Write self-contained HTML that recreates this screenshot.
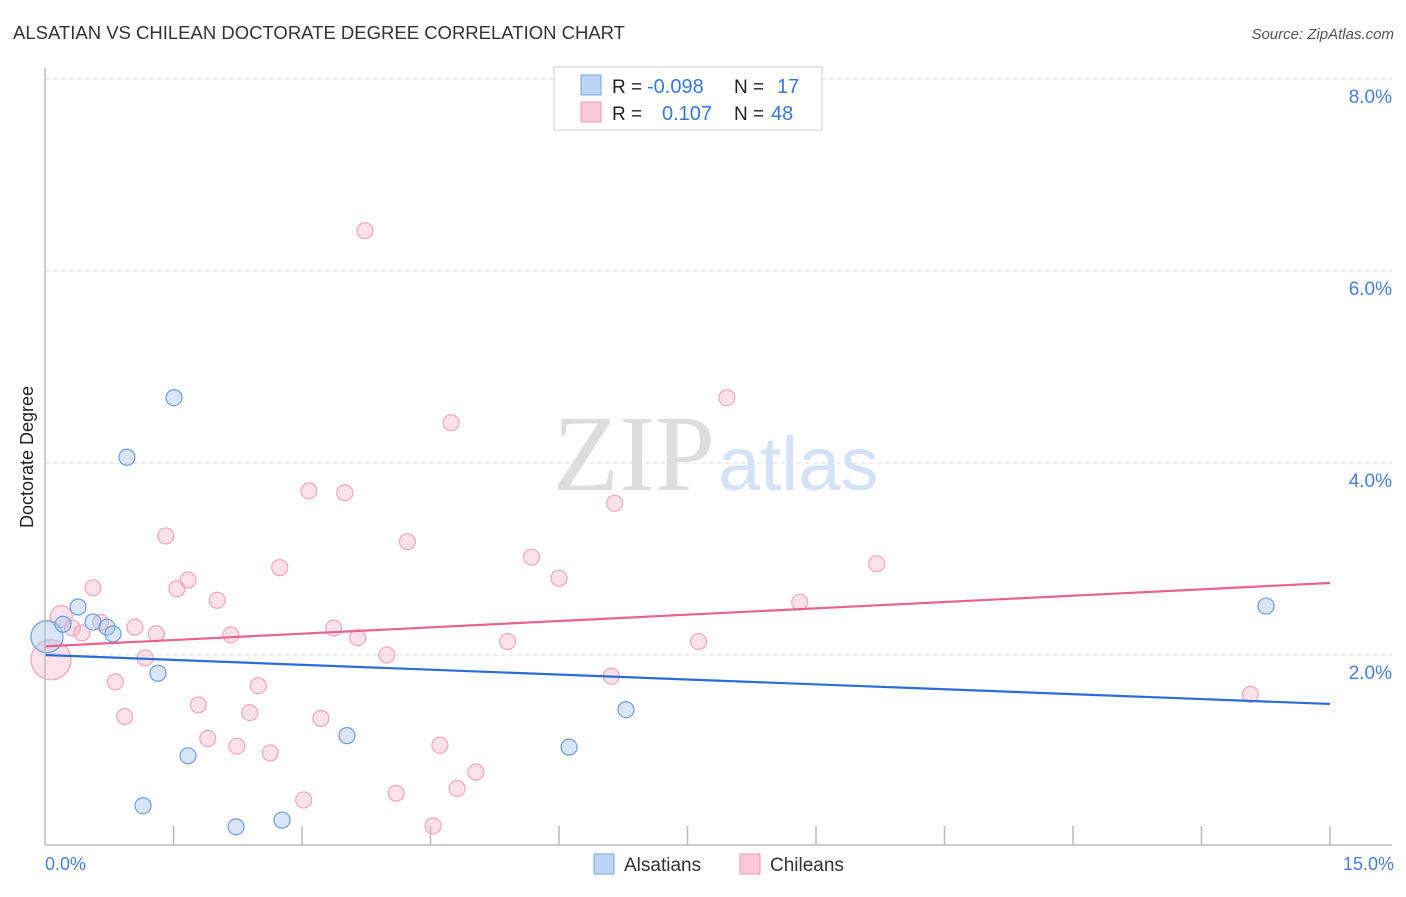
<!DOCTYPE html>
<html><head><meta charset="utf-8"><style>
body{margin:0;background:#fff;font-family:"Liberation Sans",sans-serif;}
svg text{font-family:"Liberation Sans",sans-serif;}
</style></head><body>
<svg width="1406" height="892" id="c">
<text x="13" y="39" font-size="18.5" fill="#333">ALSATIAN VS CHILEAN DOCTORATE DEGREE CORRELATION CHART</text>
<text x="1394" y="39" font-size="15" fill="#555" font-style="italic" text-anchor="end">Source: ZipAtlas.com</text>
<text x="33" y="457" font-size="18" fill="#222" transform="rotate(-90 33 457)" text-anchor="middle">Doctorate Degree</text>
<text x="553" y="490" font-size="108" fill="#ddd" style="font-family:'Liberation Serif',serif">ZIP</text>
<text x="718" y="490" font-size="76" fill="#d5e2f5">atlas</text>
<g id="grid"></g><g id="pts"></g><g id="lines"></g>
<line x1="45" y1="68" x2="45" y2="845" stroke="#bbb" stroke-width="1.5"/>
<line x1="45" y1="845" x2="1392" y2="845" stroke="#bbb" stroke-width="1.5"/>
<text x="45" y="870" font-size="18" fill="#4a7fd8">0.0%</text>
<text x="1394" y="870" font-size="18" fill="#4a7fd8" text-anchor="end">15.0%</text>
<g>
<rect x="554" y="67" width="268" height="63" fill="#fff" stroke="#ccc"/>
<rect x="581" y="75" width="20" height="20" fill="#bcd4f5" stroke="#7aa6e6"/>
<rect x="581" y="102" width="20" height="20" fill="#fac8d6" stroke="#ef9ab4"/>
<text x="612" y="93" font-size="19" fill="#222">R =</text><text x="647" y="93" font-size="20" fill="#3a78d8">-0.098</text>
<text x="734" y="93" font-size="19" fill="#222">N =</text><text x="777" y="93" font-size="20" fill="#3a78d8">17</text>
<text x="612" y="120" font-size="19" fill="#222">R =</text><text x="662" y="120" font-size="20" fill="#3a78d8">0.107</text>
<text x="734" y="120" font-size="19" fill="#222">N =</text><text x="771" y="120" font-size="20" fill="#3a78d8">48</text>
</g>
<g>
<rect x="594" y="854" width="20" height="20" fill="#bcd4f5" stroke="#7aa6e6"/>
<text x="624" y="871" font-size="19" fill="#333">Alsatians</text>
<rect x="740" y="854" width="20" height="20" fill="#fac8d6" stroke="#ef9ab4"/>
<text x="770" y="871" font-size="19" fill="#333">Chileans</text>
</g>
</svg>
<script>
const yTicks=[2,4,6,8];
const blueX=[0.385,0.56,0.724,0.794,0.023,0.21,0.957,1.506,1.319,1.669,1.144,2.23,2.767,3.525,6.117,6.782,14.253];
const blueY=[2.50,2.344,2.29,2.22,2.19,2.32,4.06,4.68,1.81,0.95,0.43,0.21,0.28,1.16,1.04,1.43,2.51];
const pinkX=[3.735,4.74,7.96,3.08,3.50,6.65,1.41,4.23,5.68,9.71,2.74,6.00,1.67,0.56,1.54,2.01,8.81,0.19,0.65,0.32,1.05,3.37,1.30,2.17,3.65,5.40,7.63,0.43,1.17,3.99,0.07,6.61,0.82,2.49,1.79,0.93,2.39,3.22,1.90,2.24,4.61,2.63,5.03,4.10,4.81,3.02,4.53,14.07];
const pinkY=[6.42,4.42,4.68,3.71,3.69,3.58,3.24,3.18,3.02,2.95,2.91,2.80,2.78,2.70,2.69,2.57,2.55,2.40,2.34,2.28,2.29,2.28,2.22,2.21,2.18,2.14,2.14,2.23,1.97,2.00,1.95,1.78,1.72,1.68,1.48,1.36,1.40,1.34,1.13,1.05,1.06,0.98,0.78,0.56,0.61,0.49,0.22,1.59];
const blueTrend=[2.00,1.49];
const pinkTrend=[2.09,2.75];
const xTicks=[1.5,3,4.5,6,7.5,9,10.5,12,13.5,15];
const X=v=>45+v/15*1285, Y=v=>847-v*96;
const NS='http://www.w3.org/2000/svg';
function mk(tag,attrs,parent){const e=document.createElementNS(NS,tag);for(const k in attrs)e.setAttribute(k,attrs[k]);document.getElementById(parent).appendChild(e);return e;}
yTicks.forEach(t=>{
 const l=mk('line',{x1:45,x2:1392,y1:Y(t),y2:Y(t),stroke:'#ddd','stroke-dasharray':'4 4'},'grid');
 
 
 const tx=mk('text',{x:1392,y:Y(t)+24,'font-size':19,fill:'#4a7fd8','text-anchor':'end'},'grid');tx.textContent=t.toFixed(1)+'%';
 
 
});
xTicks.forEach(t=>{
 const l=mk('line',{x1:X(t),x2:X(t),y1:826,y2:845,stroke:'#bbb','stroke-width':1.5},'grid');
 
 
});
pinkX.forEach((v,i)=>{
 const r=i==30?20:(i==17?11:8);
 const c=mk('circle',{cx:X(v),cy:Y(pinkY[i]),r:r,fill:'rgba(246,170,195,0.35)',stroke:'#f0a6bd','stroke-width':1.2},'pts');
 
 
});
blueX.forEach((v,i)=>{
 const r=i==4?16:8;
 const c=mk('circle',{cx:X(v),cy:Y(blueY[i]),r:r,fill:'rgba(170,200,240,0.45)',stroke:'#6d9ce0','stroke-width':1.2},'pts');
 
 
});
const bl=mk('line',{x1:X(0),y1:Y(blueTrend[0]),x2:X(15),y2:Y(blueTrend[1]),stroke:'#2a6dd6','stroke-width':2.2},'lines');


const pl=mk('line',{x1:X(0),y1:Y(pinkTrend[0]),x2:X(15),y2:Y(pinkTrend[1]),stroke:'#e8638f','stroke-width':2.2},'lines');


</script>
</body></html>
